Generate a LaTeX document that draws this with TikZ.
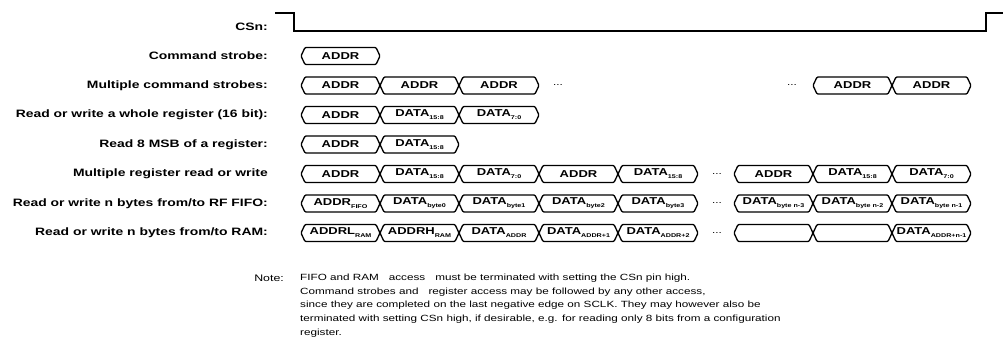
\documentclass[tikz,border=0pt]{standalone}
\usepackage{fontspec}
\setmainfont{Liberation Sans}
\newfontfamily\widesans[FakeStretch=1.3]{Liberation Sans}
% small lowered index inside a bus segment
\newcommand\idx[1]{\raisebox{-3pt}{\fontsize{5.5}{6}\selectfont #1}}
\begin{document}
\begin{tikzpicture}[x=1pt,y=-1pt,
  wave/.style={line width=1.6pt},
  bus/.style={line width=1.3pt, rounded corners=1pt},
  lbl/.style={anchor=east, font=\widesans\bfseries\fontsize{10.7}{12}\selectfont, inner sep=0pt},
  val/.style={font=\widesans\bfseries\fontsize{10}{11}\selectfont, inner sep=0pt},
  gap/.style={font=\widesans\fontsize{9}{10}\selectfont, inner sep=0pt},
  notetext/.style={anchor=west, font=\widesans\fontsize{9}{11}\selectfont, inner sep=0pt}]
\useasboundingbox (0,0) rectangle (1003,360);

% one bus segment: x-left, x-right, y-centre, node name, contents
\newcommand\busseg[5]{%
  \draw[bus] (#1,#3) -- ({#1+4},{#3-8.5}) -- ({#2-4},{#3-8.5}) -- (#2,#3)
     -- ({#2-4},{#3+8.5}) -- ({#1+4},{#3+8.5}) -- cycle;
  \node[val] (#4) at ({(#1+#2)/2},#3) {#5};}

% column edges
\def\cA{301}\def\cB{380}\def\cC{459}\def\cD{539}\def\cE{618}\def\cF{698}
\def\cG{734}\def\cH{813}\def\cI{892}\def\cJ{971}

% chip select waveform
\draw[wave] (275,13) -- (294,13) -- (294,31) -- (986,31) -- (986,13) -- (1003,13);
\node[lbl] (lcsn) at (268,27) {CSn:};

% row labels
\node[lbl] (l1) at (268,56)    {Command strobe:};
\node[lbl] (l2) at (268,85.5)  {Multiple command strobes:};
\node[lbl] (l3) at (268,115)   {Read or write a whole register (16 bit):};
\node[lbl] (l4) at (268,144.5) {Read 8 MSB of a register:};
\node[lbl] (l5) at (268,174)   {Multiple register read or write};
\node[lbl] (l6) at (268,203.5) {Read or write n bytes from/to RF FIFO:};
\node[lbl] (l7) at (268,233)   {Read or write n bytes from/to RAM:};

% command strobe
\busseg{\cA}{\cB}{56}{a1}{ADDR}

% multiple command strobes
\busseg{\cA}{\cB}{85.5}{b1}{ADDR}
\busseg{\cB}{\cC}{85.5}{b2}{ADDR}
\busseg{\cC}{\cD}{85.5}{b3}{ADDR}
\node[gap] (bd1) at (558,85.5) {...};
\node[gap] (bd2) at (792,85.5) {...};
\busseg{\cH}{\cI}{85.5}{b4}{ADDR}
\busseg{\cI}{\cJ}{85.5}{b5}{ADDR}

% whole register
\busseg{\cA}{\cB}{115}{c1}{ADDR}
\busseg{\cB}{\cC}{115}{c2}{DATA\idx{15:8}}
\busseg{\cC}{\cD}{115}{c3}{DATA\idx{7:0}}

% 8 MSB
\busseg{\cA}{\cB}{144.5}{d1}{ADDR}
\busseg{\cB}{\cC}{144.5}{d2}{DATA\idx{15:8}}

% multiple register
\busseg{\cA}{\cB}{174}{e1}{ADDR}
\busseg{\cB}{\cC}{174}{e2}{DATA\idx{15:8}}
\busseg{\cC}{\cD}{174}{e3}{DATA\idx{7:0}}
\busseg{\cD}{\cE}{174}{e4}{ADDR}
\busseg{\cE}{\cF}{174}{e5}{DATA\idx{15:8}}
\node[gap] (ed) at (717,174) {...};
\busseg{\cG}{\cH}{174}{e6}{ADDR}
\busseg{\cH}{\cI}{174}{e7}{DATA\idx{15:8}}
\busseg{\cI}{\cJ}{174}{e8}{DATA\idx{7:0}}

% RF FIFO
\busseg{\cA}{\cB}{203.5}{f1}{ADDR\idx{FIFO}}
\busseg{\cB}{\cC}{203.5}{f2}{DATA\idx{byte0}}
\busseg{\cC}{\cD}{203.5}{f3}{DATA\idx{byte1}}
\busseg{\cD}{\cE}{203.5}{f4}{DATA\idx{byte2}}
\busseg{\cE}{\cF}{203.5}{f5}{DATA\idx{byte3}}
\node[gap] (fd) at (717,203.5) {...};
\busseg{\cG}{\cH}{203.5}{f6}{DATA\idx{byte n-3}}
\busseg{\cH}{\cI}{203.5}{f7}{DATA\idx{byte n-2}}
\busseg{\cI}{\cJ}{203.5}{f8}{DATA\idx{byte n-1}}

% RAM
\busseg{\cA}{\cB}{233}{g1}{ADDRL\idx{RAM}}
\busseg{\cB}{\cC}{233}{g2}{ADDRH\idx{RAM}}
\busseg{\cC}{\cD}{233}{g3}{DATA\idx{ADDR}}
\busseg{\cD}{\cE}{233}{g4}{DATA\idx{ADDR+1}}
\busseg{\cE}{\cF}{233}{g5}{DATA\idx{ADDR+2}}
\node[gap] (gd) at (717,233) {...};
\busseg{\cG}{\cH}{233}{g6}{}
\busseg{\cH}{\cI}{233}{g7}{}
\busseg{\cI}{\cJ}{233}{g8}{DATA\idx{ADDR+n-1}}

% note
\node[lbl, font=\widesans\fontsize{9.5}{11}\selectfont] (nlbl) at (284,278) {Note:};
\node[notetext] (n1) at (300,278)   {FIFO and RAM\hspace{10pt}access\hspace{10pt}must be terminated with setting the CSn pin high.};
\node[notetext] (n2) at (300,291.7) {Command strobes and\hspace{10pt}register access may be followed by any other access,};
\node[notetext] (n3) at (300,305.4) {since they are completed on the last negative edge on SCLK. They may however also be};
\node[notetext] (n4) at (300,319.1) {terminated with setting CSn high, if desirable, e.g. for reading only 8 bits from a configuration};
\node[notetext] (n5) at (300,332.8) {register.};
\end{tikzpicture}
\end{document}
